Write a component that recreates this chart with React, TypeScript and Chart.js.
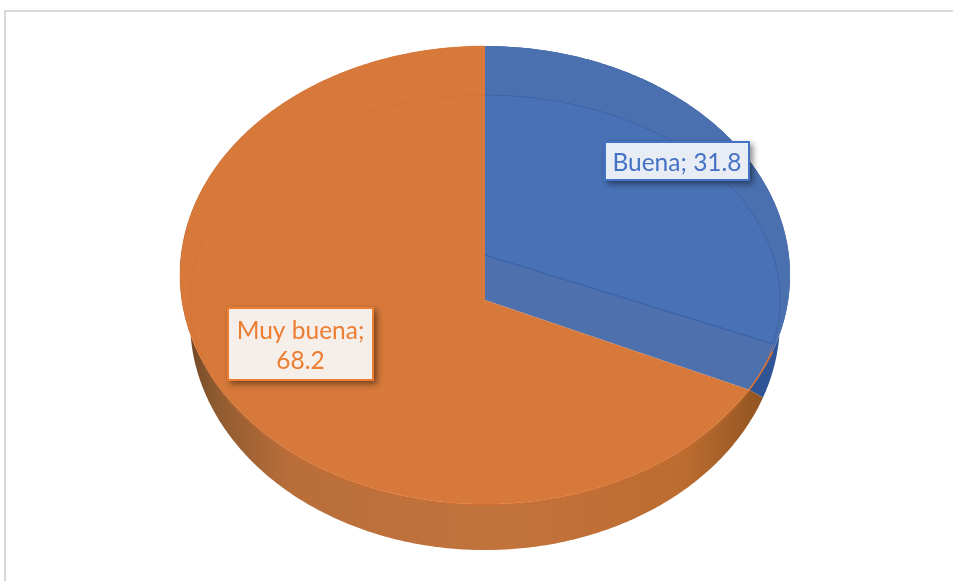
import React, { useEffect, useRef } from "react";
import { Chart, registerables } from "chart.js";

Chart.register(...registerables);

const categories = ["Buena", "Muy buena"];
const values = [31.8, 68.2];
const topColors = ["#4A70B0", "#D6793A"];
const innerColors = ["rgba(74,116,190,0.45)", "rgba(222,120,50,0.03)"];
const edgeColors = ["rgba(47,85,151,0.45)", "rgba(226,105,40,0.4)"];
const wallColors = ["#2F5597", "#C0703A"];
const labelBorders = ["#4472C4", "#ED7D31"];
const labelFills = ["#E8ECF4", "#F5EEE9"];
const labelBoxes = [
  { x: 605, y: 142, w: 144, h: 38, lines: 1 },
  { x: 228, y: 308, w: 145, h: 72, lines: 2 },
];

type Face = { cx: number; cy: number; a: number; b: number; k: number };
const TOP: Face = { cx: 485, cy: 300, a: 303.2, b: 226.3, k: 0.109 };
const INNER: Face = { cx: 485, cy: 255, a: 287.8, b: 195, k: -0.2195 };
const WALL_DROP = 46;
const WALL_NARROW = 0.967;
const WALL_SHIFT = (11 * Math.PI) / 180;
const FONT = "Lato, 'Open Sans', sans-serif";
const FONT_SIZE = 24.5;
const LINE_HEIGHT = 30;

const proj = (f: Face, t: number) => {
  const u = Math.sin(t);
  const v = -Math.cos(t);
  const d = 1 + f.k * v;
  return { x: f.cx + (f.a * u) / d, y: f.cy + (f.b * v) / d };
};
const wallPt = (t: number) => {
  const p = proj(TOP, t - WALL_SHIFT);
  return { x: TOP.cx + (p.x - TOP.cx) * WALL_NARROW, y: p.y + WALL_DROP };
};
const arcPts = (
  ctx: CanvasRenderingContext2D,
  pt: (t: number) => { x: number; y: number },
  a: number,
  b: number,
) => {
  const n = Math.max(2, Math.ceil(Math.abs(b - a) * 90));
  for (let i = 0; i <= n; i++) {
    const q = pt(a + ((b - a) * i) / n);
    ctx.lineTo(q.x, q.y);
  }
};
const slicePath = (ctx: CanvasRenderingContext2D, f: Face, a: number, b: number) => {
  ctx.beginPath();
  ctx.moveTo(f.cx, f.cy);
  arcPts(ctx, (t) => proj(f, t), a, b);
  ctx.closePath();
};

const pie3d = {
  id: "pie3d",
  beforeDatasetDraw(chart: any) {
    const ctx: CanvasRenderingContext2D = chart.ctx;
    const arcs = chart.getDatasetMeta(0).data;
    const spans = arcs.map((e: any) => [e.startAngle + Math.PI / 2, e.endAngle + Math.PI / 2]);
    ctx.save();

    // side wall
    const grad = ctx.createLinearGradient(185, 0, 770, 0);
    grad.addColorStop(0, "#6E4526");
    grad.addColorStop(0.05, "#8E5A30");
    grad.addColorStop(0.18, "#B96E3A");
    grad.addColorStop(0.55, "#C2733C");
    grad.addColorStop(0.85, "#BD6C30");
    grad.addColorStop(1, "#8E5320");
    spans.forEach(([a, b]: number[], i: number) => {
      ctx.beginPath();
      const s = proj(TOP, a);
      ctx.moveTo(s.x, s.y);
      arcPts(ctx, (t) => proj(TOP, t), a, b);
      arcPts(ctx, wallPt, b, a);
      ctx.closePath();
      ctx.fillStyle = i === 1 ? grad : wallColors[i];
      ctx.fill();
    });

    // near face
    spans.forEach(([a, b]: number[], i: number) => {
      slicePath(ctx, TOP, a, b);
      ctx.fillStyle = topColors[i];
      ctx.fill();
    });

    // far face seen through the near one
    spans.forEach(([a, b]: number[], i: number) => {
      slicePath(ctx, INNER, a, b);
      ctx.fillStyle = innerColors[i];
      ctx.fill();
      ctx.lineWidth = 1;
      ctx.strokeStyle = edgeColors[i];
      ctx.beginPath();
      const s = proj(INNER, a);
      ctx.moveTo(s.x, s.y);
      arcPts(ctx, (t) => proj(INNER, t), a, b);
      ctx.stroke();
    });

    // radial edge of the far face
    const [, blueEnd] = spans[0];
    const e = proj(INNER, blueEnd);
    ctx.strokeStyle = "#3A62A8";
    ctx.lineWidth = 1.2;
    ctx.beginPath();
    ctx.moveTo(INNER.cx, INNER.cy);
    ctx.lineTo(e.x, e.y);
    ctx.stroke();

    // near edge between the slices
    ctx.strokeStyle = "#E0752C";
    ctx.lineWidth = 1.4;
    ctx.beginPath();
    const s0 = proj(TOP, blueEnd - WALL_SHIFT);
    ctx.moveTo(s0.x, s0.y);
    arcPts(ctx, (t) => proj(TOP, t), blueEnd - WALL_SHIFT, blueEnd);
    ctx.stroke();

    // near face rim on the wall side
    ctx.strokeStyle = "rgba(226,115,45,0.35)";
    ctx.lineWidth = 1;
    ctx.beginPath();
    const s1 = proj(TOP, blueEnd);
    ctx.moveTo(s1.x, s1.y);
    arcPts(ctx, (t) => proj(TOP, t), blueEnd, spans[1][1]);
    ctx.stroke();

    ctx.restore();
    return false;
  },
  afterDatasetsDraw(chart: any) {
    const ctx: CanvasRenderingContext2D = chart.ctx;
    categories.forEach((c, i) => {
      const box = labelBoxes[i];
      ctx.save();
      ctx.shadowColor = "rgba(0,0,0,0.45)";
      ctx.shadowBlur = 6;
      ctx.shadowOffsetX = 3;
      ctx.shadowOffsetY = 3;
      ctx.fillStyle = labelBorders[i];
      ctx.fillRect(box.x - 1, box.y - 1, box.w + 2, box.h + 2);
      ctx.restore();
      ctx.save();
      ctx.fillStyle = labelFills[i];
      ctx.fillRect(box.x + 1, box.y + 1, box.w - 2, box.h - 2);
      ctx.fillStyle = labelBorders[i];
      ctx.font = `${FONT_SIZE}px ${FONT}`;
      ctx.textAlign = "center";
      ctx.textBaseline = "middle";
      const mx = box.x + box.w / 2;
      const lines = box.lines === 1 ? [`${c}; ${values[i]}`] : [`${c};`, `${values[i]}`];
      const my = box.y + box.h / 2 + 2;
      lines.forEach((l, j) => {
        ctx.fillText(l, mx, my + (j - (lines.length - 1) / 2) * LINE_HEIGHT);
      });
      ctx.restore();
    });
  },
};

export default function App() {
  const ref = useRef<HTMLCanvasElement>(null);
  useEffect(() => {
    const chart = new Chart(ref.current as HTMLCanvasElement, {
      type: "pie",
      data: { labels: categories, datasets: [{ data: values, backgroundColor: topColors }] },
      options: {
        animation: false,
        responsive: false,
        plugins: { legend: { display: false }, tooltip: { enabled: false } },
      },
      plugins: [pie3d],
    });
    return () => chart.destroy();
  }, []);
  return (
    <div style={{ position: "fixed", left: 0, top: 0, width: 953, height: 581, background: "#fff", overflow: "hidden" }}>
      <canvas
        ref={ref}
        width={953}
        height={581}
        style={{ position: "absolute", left: 0, top: 0, display: "block", filter: "blur(0.45px)" }}
      />
      <div
        style={{
          position: "absolute",
          left: 4,
          top: 10,
          width: 960,
          height: 600,
          borderLeft: "2px solid #D9D9D9",
          borderTop: "2px solid #D9D9D9",
          pointerEvents: "none",
        }}
      />
    </div>
  );
}
